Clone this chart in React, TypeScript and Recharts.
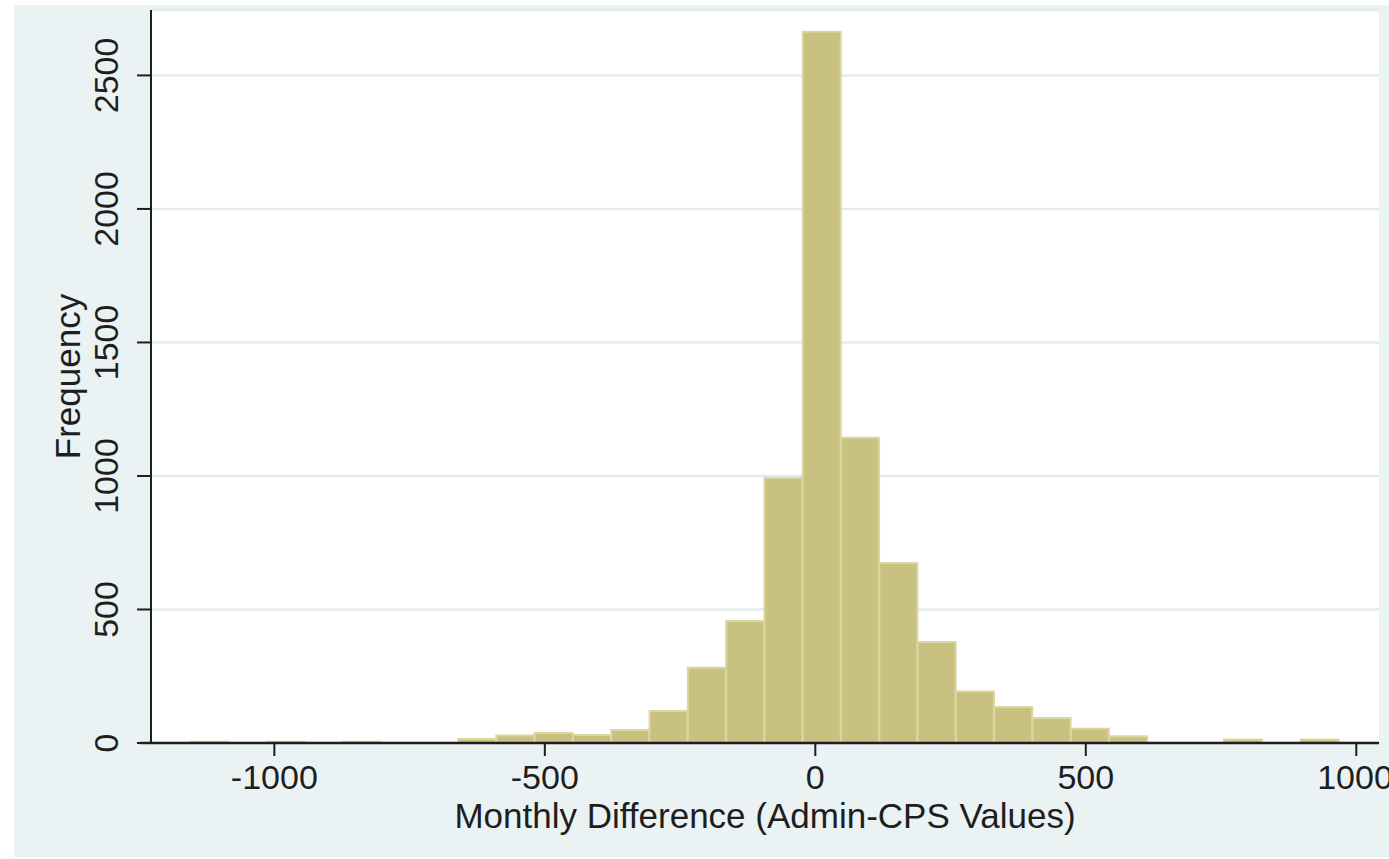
import React from 'react';
import { BarChart, Bar, XAxis, YAxis, CartesianGrid, ReferenceLine, Rectangle } from 'recharts';

// Histogram bins (bin centres, Admin-CPS monthly difference) and frequencies
const binCenters = [
  -1120.6, -1049.8, -979.0, -908.2, -837.4, -766.6, -695.8, -625.0, -554.2, -483.4,
  -412.6, -341.8, -271.0, -200.2, -129.4, -58.6, 12.2, 83.0, 153.8, 224.6,
  295.4, 366.2, 437.0, 507.8, 578.6, 649.4, 720.2, 791.0, 861.8, 932.6,
];
const frequencies = [
  5, 0, 5, 0, 5, 0, 0, 15, 28, 37,
  30, 49, 120, 282, 457, 992, 2664, 1143, 674, 378,
  193, 135, 94, 53, 25, 0, 0, 13, 0, 13,
];
const xTicks = [-1000, -500, 0, 500, 1000];
const yTicks = [0, 500, 1000, 1500, 2000, 2500];
const xTitle = 'Monthly Difference (Admin-CPS Values)';
const yTitle = 'Frequency';

const data = binCenters.map((x, i) => ({ x, count: frequencies[i] }));

const FONT = '"Liberation Sans", Arial, sans-serif';
const INK = '#1e1e1e';

const YTick = (props: any) => {
  const { x, y, payload } = props;
  return (
    <text
      x={x}
      y={y}
      transform={`rotate(-90, ${x}, ${y})`}
      textAnchor="middle"
      fontSize={34}
      fontFamily={FONT}
      fill={INK}
    >
      {payload.value}
    </text>
  );
};

const BarShape = (props: any) => {
  if (!props.payload || !(props.payload.count > 0)) return <g />;
  return (
    <Rectangle
      x={props.x}
      y={props.y}
      width={props.width}
      height={props.height}
      fill="#c9c17f"
      stroke="#dbd6a2"
      strokeWidth={2}
    />
  );
};

const YLabel = (props: any) => {
  const vb = props.viewBox || { x: 0, y: 5, width: 137, height: 733 };
  const x = vb.x + 66;
  const y = vb.y + vb.height / 2;
  return (
    <text
      x={x}
      y={y}
      transform={`rotate(-90, ${x}, ${y})`}
      textAnchor="middle"
      fontSize={35}
      fontFamily={FONT}
      fill={INK}
    >
      {yTitle}
    </text>
  );
};

const XLabel = (props: any) => {
  const vb = props.viewBox || { x: 137, y: 738, width: 1228, height: 114 };
  return (
    <text
      x={vb.x + vb.width / 2}
      y={vb.y + 85}
      textAnchor="middle"
      fontSize={35}
      fontFamily={FONT}
      fill={INK}
    >
      {xTitle}
    </text>
  );
};

export default function App() {
  return (
    <div style={{ position: 'absolute', left: 0, top: 0, width: 1389, height: 859, background: '#ffffff' }}>
      <div style={{ position: 'absolute', left: 14, top: 5, width: 1375, height: 852, background: '#eaf2f3' }}>
        <BarChart
          width={1375}
          height={852}
          data={data}
          margin={{ top: 5, right: 10, bottom: 0, left: 0 }}
          barCategoryGap={0}
          barGap={0}
        >
          <CartesianGrid vertical={false} fill="#ffffff" stroke="#e2ecef" strokeWidth={2.5} />
          <XAxis
            type="number"
            dataKey="x"
            domain={[-1228, 1042]}
            ticks={xTicks}
            allowDataOverflow
            height={114}
            tickSize={13}
            tickMargin={9}
            axisLine={false}
            tickLine={{ stroke: INK, strokeWidth: 2 }}
            tick={{ fill: INK, fontSize: 34, fontFamily: FONT }}
            label={XLabel}
          />
          <YAxis
            type="number"
            domain={[0, 2745]}
            ticks={yTicks}
            allowDataOverflow
            width={137}
            tickSize={14}
            tickMargin={19}
            axisLine={{ stroke: INK, strokeWidth: 2 }}
            tickLine={{ stroke: INK, strokeWidth: 2 }}
            tick={YTick}
            label={YLabel}
          />
          <Bar dataKey="count" isAnimationActive={false} shape={BarShape} />
          <ReferenceLine
            segment={[{ x: -1248, y: 0 }, { x: 1042, y: 0 }]}
            ifOverflow="visible"
            stroke={INK}
            strokeWidth={2.5}
          />
        </BarChart>
      </div>
    </div>
  );
}
